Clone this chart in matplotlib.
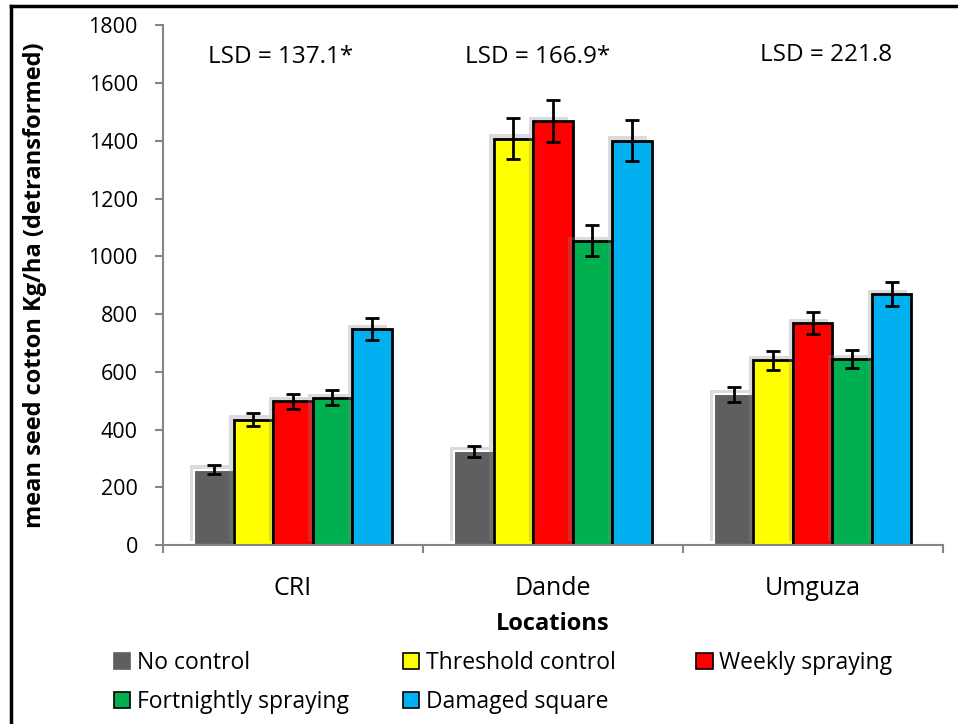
import matplotlib
matplotlib.use('Agg')
import matplotlib.pyplot as plt
import matplotlib.patheffects as pe
from matplotlib.patches import Rectangle
import numpy as np

plt.rcParams['font.family'] = ['Open Sans', 'DejaVu Sans']

locations = ['CRI', 'Dande', 'Umguza']
treatments = ['No control', 'Threshold control', 'Weekly spraying',
              'Fortnightly spraying', 'Damaged square']
colours = ['#5f5f5f', '#ffff00', '#ff0000', '#00b050', '#00b0f0']

means = [
    [262, 325, 522],    # No control
    [435, 1408, 641],   # Threshold control
    [498, 1469, 769],   # Weekly spraying
    [510, 1054, 645],   # Fortnightly spraying
    [748, 1401, 870],   # Damaged square
]
errors = [
    [15, 20, 27],
    [22, 71, 33],
    [26, 74, 38],
    [26, 53, 32],
    [38, 70, 43],
]
lsd_labels = ['LSD = 137.1*', 'LSD = 166.9*', 'LSD = 221.8']
lsd_y = [1689, 1689, 1696]

fig = plt.figure(figsize=(9.58, 7.24), dpi=100)
ax = fig.add_axes([0.170, 0.247, 0.814, 0.718])

w = 0.152
x = np.arange(len(locations)) + 0.5
shadow = [pe.SimplePatchShadow(offset=(-3, 3), shadow_rgbFace='#888888', alpha=0.3), pe.Normal()]
handles = []
for i, t in enumerate(treatments):
    pos = x + (i - 2) * w
    edge = 'white' if i == 0 else 'black'
    b = ax.bar(pos, means[i], width=w, color=colours[i], edgecolor=edge,
               linewidth=1.5 if i == 0 else 2, label=t, zorder=2)
    for p in b:
        p.set_path_effects(shadow)
    ax.errorbar(pos, means[i], yerr=errors[i], fmt='none', ecolor='black',
                elinewidth=2, capsize=5, capthick=2, zorder=3)
    handles.append(Rectangle((0, 0), 1, 1, facecolor=colours[i],
                             edgecolor='#5f5f5f' if i == 0 else 'black', linewidth=1.2))

for xi, lab, yy in zip([0.454, 1.442, 2.55], lsd_labels, lsd_y):
    ax.text(xi, yy, lab, ha='center', va='center', fontsize=17.5)

ax.set_xlim(0, 3)
ax.set_ylim(0, 1800)
ax.set_yticks(range(0, 1801, 200))
ax.set_xticks(x)
ax.set_xticklabels(locations)
ax.set_xticks([0, 1, 2, 3], minor=True)
ax.tick_params(axis='x', which='major', length=0, pad=22, labelsize=18)
ax.tick_params(axis='x', which='minor', length=6, color='#868686', width=1.5)
ax.tick_params(axis='y', length=6, color='#868686', width=1.5, labelsize=15.5, pad=12)
for s in ['top', 'right']:
    ax.spines[s].set_visible(False)
for s in ['left', 'bottom']:
    ax.spines[s].set_color('#868686')
    ax.spines[s].set_linewidth(1.5)

ax.set_ylabel('mean seed cotton Kg/ha (detransformed)', fontsize=17, fontweight='bold', labelpad=30)
ax.set_xlabel('Locations', fontsize=17, fontweight='bold', labelpad=8)

# legend laid out in equal-width columns, like the original
columns = [[0, 3], [1, 4], [2]]
col_x = [0.119, 0.421, 0.727]
for col, cx in zip(columns, col_x):
    fig.legend([handles[k] for k in col], [treatments[k] for k in col],
               loc='upper left', bbox_to_anchor=(cx, 0.101), frameon=False,
               borderpad=0, borderaxespad=0, fontsize=16.5, handlelength=0.7,
               handleheight=0.7, handletextpad=0.3, labelspacing=0.68)

# border on left and top
fig.add_artist(plt.Line2D([0.0115, 0.0115], [0, 0.992], color='black', lw=2.5, transform=fig.transFigure))
fig.add_artist(plt.Line2D([0.0115, 1.0], [0.992, 0.992], color='black', lw=2.5, transform=fig.transFigure))

fig.savefig('out.png', dpi=100)
